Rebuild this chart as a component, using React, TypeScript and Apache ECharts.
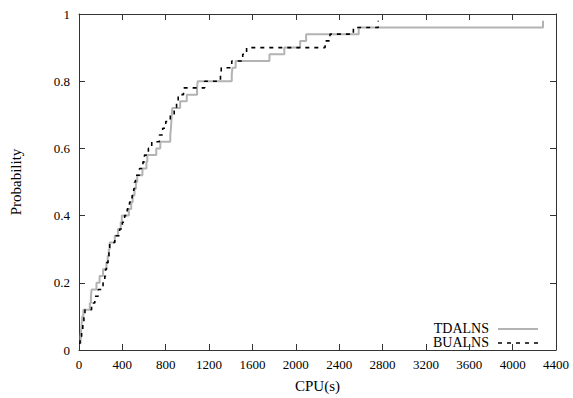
import React, { useEffect, useRef } from "react";
import * as echarts from "echarts";

const xTicks = [0, 400, 800, 1200, 1600, 2000, 2400, 2800, 3200, 3600, 4000, 4400];
const yTicks = [0, 0.2, 0.4, 0.6, 0.8, 1];
const seriesNames = ["TDALNS", "BUALNS"];

const tdalnsCpu = [
  5, 15, 20, 25, 30, 40, 100, 110, 116, 161, 190, 222, 253, 265, 275, 283, 330, 360, 385, 395,
  460, 482, 495, 512, 525, 537, 585, 622, 630, 713, 750, 842, 848, 852, 856, 860, 933, 994,
  1089, 1095, 1409, 1415, 1445, 1757, 1894, 2040, 2095, 2580, 4280,
];
const tdalnsProb = [
  0.02, 0.04, 0.06, 0.08, 0.1, 0.12, 0.14, 0.16, 0.18, 0.2, 0.22, 0.24, 0.26, 0.28, 0.3, 0.32,
  0.34, 0.36, 0.38, 0.4, 0.42, 0.44, 0.46, 0.48, 0.5, 0.52, 0.54, 0.56, 0.58, 0.6, 0.62, 0.64,
  0.66, 0.68, 0.7, 0.72, 0.74, 0.76, 0.78, 0.8, 0.82, 0.84, 0.86, 0.88, 0.9, 0.92, 0.94, 0.96, 0.98,
];

const bualnsCpu = [
  0, 10, 24, 35, 45, 55, 116, 146, 177, 222, 238, 245, 253, 268, 276, 283, 330, 375, 400, 421,
  445, 466, 490, 505, 512, 521, 558, 590, 604, 640, 671, 741, 772, 800, 842, 878, 900, 915, 964,
  1159, 1305, 1312, 1409, 1510, 1546, 2270, 2315, 2531, 2760,
];
const bualnsProb = [
  0.02, 0.04, 0.06, 0.08, 0.1, 0.12, 0.14, 0.16, 0.18, 0.2, 0.22, 0.24, 0.26, 0.28, 0.3, 0.32,
  0.34, 0.36, 0.38, 0.4, 0.42, 0.44, 0.46, 0.48, 0.5, 0.52, 0.54, 0.56, 0.58, 0.6, 0.62, 0.64,
  0.66, 0.68, 0.7, 0.72, 0.74, 0.76, 0.78, 0.8, 0.82, 0.84, 0.86, 0.88, 0.9, 0.92, 0.94, 0.96, 0.98,
];

const FONT = "'Liberation Serif', 'DejaVu Serif', serif";
const AXIS_COLOR = "#333333";
const GRAY = "#b3b3b3";
const DASH = [4, 5];

export default function App() {
  const ref = useRef<HTMLDivElement>(null);
  useEffect(() => {
    if (!ref.current) return;
    const chart = echarts.init(ref.current, undefined, { renderer: "svg" });
    const xMin = xTicks[0];
    const xMax = xTicks[xTicks.length - 1];
    const xInt = xTicks[1] - xTicks[0];
    const yMin = yTicks[0];
    const yMax = yTicks[yTicks.length - 1];
    const yInt = yTicks[1] - yTicks[0];
    const tick = () => ({
      show: true,
      inside: true,
      length: 6,
      alignWithLabel: false,
      lineStyle: { color: AXIS_COLOR, width: 1 },
    });
    const line = () => ({ show: true, onZero: false, lineStyle: { color: AXIS_COLOR, width: 1 } });
    const legendText = { fontFamily: FONT, fontSize: 14, fill: "#000" };
    chart.setOption({
      animation: false,
      backgroundColor: "#ffffff",
      grid: { left: 74, right: 17, top: 14, bottom: 44 },
      xAxis: [
        {
          type: "value",
          min: xMin,
          max: xMax,
          interval: xInt,
          position: "bottom",
          splitLine: { show: false },
          minorTick: { show: false },
          axisLine: line(),
          axisTick: tick(),
          name: "CPU(s)",
          nameLocation: "middle",
          nameGap: 28,
          nameTextStyle: { fontFamily: FONT, fontSize: 15, color: "#000" },
          axisLabel: {
            fontFamily: FONT,
            fontSize: 13,
            color: "#000",
            margin: 8,
            formatter: (v: number) => String(v),
          },
        },
        {
          type: "value",
          min: xMin,
          max: xMax,
          interval: xInt,
          position: "top",
          splitLine: { show: false },
          minorTick: { show: false },
          axisLine: line(),
          axisTick: tick(),
          axisLabel: { show: false },
        },
      ],
      yAxis: [
        {
          type: "value",
          min: yMin,
          max: yMax,
          interval: yInt,
          position: "left",
          splitLine: { show: false },
          minorTick: { show: false },
          axisLine: line(),
          axisTick: tick(),
          name: "Probability",
          nameLocation: "middle",
          nameGap: 56,
          nameTextStyle: { fontFamily: FONT, fontSize: 15, color: "#000" },
          axisLabel: {
            fontFamily: FONT,
            fontSize: 13,
            color: "#000",
            margin: 9,
            formatter: (v: number) => String(Math.round(v * 10) / 10),
          },
        },
        {
          type: "value",
          min: yMin,
          max: yMax,
          interval: yInt,
          position: "right",
          splitLine: { show: false },
          minorTick: { show: false },
          axisLine: line(),
          axisTick: tick(),
          axisLabel: { show: false },
        },
      ],
      graphic: [
        {
          type: "text",
          right: 573 - 489,
          top: 321,
          style: { ...legendText, text: seriesNames[0] },
        },
        {
          type: "line",
          shape: { x1: 498, y1: 329, x2: 538, y2: 329 },
          style: { stroke: GRAY, lineWidth: 2 },
        },
        {
          type: "text",
          right: 573 - 489,
          top: 335,
          style: { ...legendText, text: seriesNames[1] },
        },
        {
          type: "line",
          shape: { x1: 498, y1: 343, x2: 538, y2: 343 },
          style: { stroke: "#000", lineWidth: 1.6, lineDash: DASH },
        },
      ],
      series: [
        {
          name: seriesNames[0],
          type: "line",
          step: "end",
          showSymbol: false,
          symbol: "none",
          lineStyle: { color: GRAY, width: 2 },
          itemStyle: { color: GRAY },
          data: tdalnsCpu.map((x, i) => [x, tdalnsProb[i]]),
        },
        {
          name: seriesNames[1],
          type: "line",
          step: "end",
          showSymbol: false,
          symbol: "none",
          lineStyle: { color: "#000000", width: 1.6, type: DASH },
          itemStyle: { color: "#000000" },
          data: bualnsCpu.map((x, i) => [x, bualnsProb[i]]),
        },
        {
          name: "mirror",
          type: "line",
          xAxisIndex: 1,
          yAxisIndex: 1,
          symbol: "none",
          silent: true,
          lineStyle: { opacity: 0 },
          data: [[xMin, yMin]],
        },
      ],
    });
    return () => chart.dispose();
  }, []);
  return <div ref={ref} style={{ width: 573, height: 398, position: "fixed", left: 0, top: 0 }} />;
}
